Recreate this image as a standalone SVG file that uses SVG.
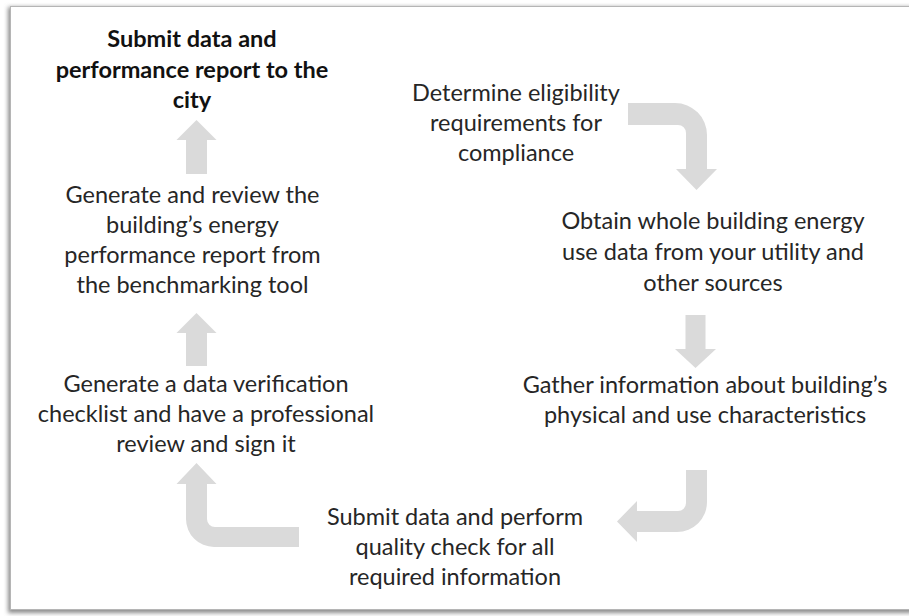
<svg xmlns="http://www.w3.org/2000/svg" width="909" height="616" viewBox="0 0 909 616">
<defs>
<filter id="sh" x="-5%" y="-5%" width="110%" height="110%">
<feGaussianBlur stdDeviation="2"/>
</filter>
</defs>
<style>
.t{font-family:Lato,"Open Sans","Liberation Sans",sans-serif;font-size:23.5px;fill:#262626;text-anchor:middle}
.b{font-weight:bold;fill:#111}
.ar{fill:#dadada}
</style>
<rect x="0" y="0" width="909" height="616" fill="#ffffff"/>
<rect x="8" y="7" width="905" height="606" fill="#8c8c8c" filter="url(#sh)"/>
<rect x="10.5" y="6.5" width="905" height="603" fill="#ffffff" stroke="#b5b5b5" stroke-width="1"/>

<g id="connectors">
<path class="ar" d="M196.5,120 L216.5,140 L207,140 L207,174 L186,174 L186,140 L176.5,140 Z"/>
<path class="ar" d="M196.5,313 L216.5,333 L207,333 L207,366 L186,366 L186,333 L176.5,333 Z"/>
<path class="ar" d="M628,103 L675,103 A32,32 0 0 1 707,135 L707,169 L717,169 L696.5,190 L676,169 L686,169 L686,133 A8,8 0 0 0 678,125 L628,125 Z"/>
<path class="ar" d="M685.5,315 L705.5,315 L705.5,349 L716,349 L695.5,368 L675,349 L685.5,349 Z"/>
<path class="ar" d="M686,470 L707,470 L707,502 A30,30 0 0 1 677,532 L637,532 L637,542 L617,521.5 L637,501 L637,511 L678,511 A8,8 0 0 0 686,503 Z"/>
<path class="ar" d="M196.5,463 L216.5,484 L207,484 L207,519 A8,8 0 0 0 215,527 L299,527 L299,547 L214,547 A28,28 0 0 1 186,519 L186,484 L176.5,484 Z"/>
</g>

<g id="n-submit-city">
<text class="t b" x="192" y="47">Submit data and</text>
<text class="t b" x="192" y="77.5">performance report to the</text>
<text class="t b" x="192" y="108">city</text>
</g>
<g id="n-report">
<text class="t" x="192.5" y="203">Generate and review the</text>
<text class="t" x="192.5" y="233">building’s energy</text>
<text class="t" x="192.5" y="263">performance report from</text>
<text class="t" x="192.5" y="293">the benchmarking tool</text>
</g>
<g id="n-checklist">
<text class="t" x="206" y="392">Generate a data verification</text>
<text class="t" x="206" y="422">checklist and have a professional</text>
<text class="t" x="206" y="452">review and sign it</text>
</g>
<g id="n-eligibility">
<text class="t" x="516" y="101">Determine eligibility</text>
<text class="t" x="516" y="131">requirements for</text>
<text class="t" x="516" y="161">compliance</text>
</g>
<g id="n-obtain">
<text class="t" x="713" y="229">Obtain whole building energy</text>
<text class="t" x="713" y="260">use data from your utility and</text>
<text class="t" x="713" y="291">other sources</text>
</g>
<g id="n-gather">
<text class="t" x="705" y="393">Gather information about building’s</text>
<text class="t" x="705" y="423">physical and use characteristics</text>
</g>
<g id="n-quality">
<text class="t" x="455" y="525">Submit data and perform</text>
<text class="t" x="455" y="555">quality check for all</text>
<text class="t" x="455" y="585">required information</text>
</g>
</svg>
